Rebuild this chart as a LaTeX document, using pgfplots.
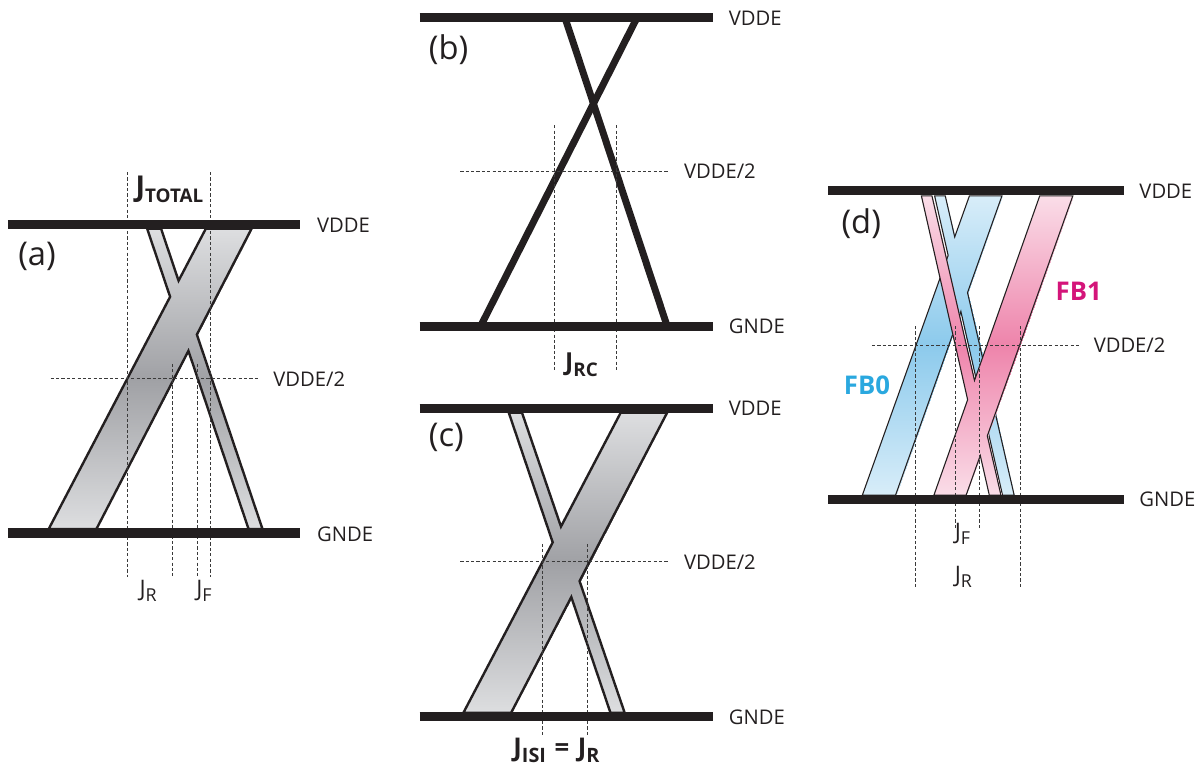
\documentclass[border=0pt]{standalone}
\usepackage{fontspec}
\setmainfont{Open Sans}
\usepackage{pgfplots}
\pgfplotsset{compat=1.18}
\definecolor{fbone}{HTML}{D4157A}
\definecolor{fbzero}{HTML}{2AA8DF}
\definecolor{dashc}{HTML}{3A3A3A}
\definecolor{txt}{HTML}{231F20}
\newcommand{\lab}[1]{{\fontsize{10.2}{12}\selectfont #1}}
\begin{document}
\begin{tikzpicture}
\begin{axis}[width=601bp,height=386bp,scale only axis,
  xmin=0,xmax=1202,ymin=0,ymax=772,y dir=reverse,
  hide axis,clip=false,
  grfill/.style={patch,patch type=triangle,shader=interp,point meta=explicit,
    point meta min=0,point meta max=1,
    colormap={gmap}{rgb255(0cm)=(221,222,224) rgb255(1cm)=(160,161,165)}},
  blfill/.style={patch,patch type=triangle,shader=interp,point meta=explicit,
    point meta min=0,point meta max=1,
    colormap={bmap}{rgb255(0cm)=(216,237,249) rgb255(1cm)=(140,202,236)}},
  pkfill/.style={patch,patch type=triangle,shader=interp,point meta=explicit,
    point meta min=0,point meta max=1,
    colormap={pmap}{rgb255(0cm)=(250,221,232) rgb255(1cm)=(238,132,171)}},
]
\addplot[draw=none,forget plot] coordinates {(0,0) (1202,772)};
% ---------- (a) fill: rising band, then falling band ----------
\addplot[grfill] table[meta=c] {
x y c
207 230 0
253 230 0
175 381 1
207 230 0
175 381 1
128 381 1
128 381 1
175 381 1
97 532 0
128 381 1
97 532 0
49 532 0
148 230 0
162 230 0
213 381 1
148 230 0
213 381 1
199 381 1
199 381 1
213 381 1
264 532 0
199 381 1
264 532 0
250 532 0
};
\addplot[draw=txt,line width=1.2bp,line join=miter,fill=none]
 coordinates {(49,532) (171.1,298.5) (148,230) (162,230) (179.6,282.3) (207,230) (253,230) (198.0,336.5) (264,532) (250,532) (189.5,352.9) (97,532)} --cycle;
% ---------- (c) ----------
\addplot[grfill] table[meta=c] {
x y c
624.3 415 0
671 415 0
593.0 565 1
624.3 415 0
593.0 565 1
545.7 565 1
545.7 565 1
593.0 565 1
514 717 0
545.7 565 1
514 717 0
466 717 0
511.7 415 0
525 415 0
576.3 565 1
511.7 415 0
576.3 565 1
562.5 565 1
562.5 565 1
576.3 565 1
628.3 717 0
562.5 565 1
628.3 717 0
614 717 0
};
\addplot[draw=txt,line width=1.2bp,line join=miter,fill=none]
 coordinates {(466,717) (555.9,545.5) (511.7,415) (525,415) (564.2,529.6) (624.3,415) (671,415) (582.9,584.4) (628.3,717) (614,717) (574.6,600.5) (514,717)} --cycle;
% ---------- (b) ----------
\addplot[txt,line width=3.5bp] coordinates {(568.3,18) (671,328)};
\addplot[txt,line width=3.5bp] coordinates {(483.4,328) (640.6,18)};
% ---------- (d) blue ----------
\addplot[blfill] table[meta=c] {
x y c
975 197 0
1007.7 197 0
954.4 347 1
975 197 0
954.4 347 1
921.3 347 1
921.3 347 1
954.4 347 1
900.7 498 0
921.3 347 1
900.7 498 0
867.3 498 0
940 197 0
950.7 197 0
985.2 347 1
940 197 0
985.2 347 1
974.0 347 1
974.0 347 1
985.2 347 1
1020 498 0
974.0 347 1
1020 498 0
1008.3 498 0
};
\addplot[draw=txt,line width=0.55bp,line join=miter,fill=none]
 coordinates {(867.3,498) (953.6,256.9) (940,197) (950.7,197) (960.2,238.3) (975,197) (1007.7,197) (973.1,294.3) (1020,498) (1008.3,498) (966.4,313.2) (900.7,498)} --cycle;
% ---------- (d) pink ----------
\addplot[pkfill] table[meta=c] {
x y c
1045.7 197 0
1079 197 0
1025.5 347 1
1045.7 197 0
1025.5 347 1
992.7 347 1
992.7 347 1
1025.5 347 1
971.7 498 0
992.7 347 1
971.7 498 0
939.3 498 0
926.7 197 0
937.3 197 0
971.9 347 1
926.7 197 0
971.9 347 1
960.7 347 1
960.7 347 1
971.9 347 1
1006.7 498 0
960.7 347 1
1006.7 498 0
995 498 0
};
\addplot[draw=txt,line width=0.55bp,line join=miter,fill=none]
 coordinates {(939.3,498) (973.2,402) (926.7,197) (937.3,197) (980.1,382.6) (1045.7,197) (1079,197) (993,438.4) (1006.7,498) (995,498) (985.9,458.1) (971.7,498)} --cycle;
% ---------- dashed guides ----------
\pgfplotsset{dsh/.style={dashc,line width=0.5bp,dash pattern=on 1.6bp off 1.1bp}}
\addplot[dsh] coordinates {(51,381) (260,381)};
\addplot[dsh] coordinates {(128,173) (128,580)};
\addplot[dsh] coordinates {(212,173) (212,580)};
\addplot[dsh] coordinates {(173,366) (173,580)};
\addplot[dsh] coordinates {(199,366) (199,580)};
\addplot[dsh] coordinates {(463,172) (673,172)};
\addplot[dsh] coordinates {(558,126) (558,372)};
\addplot[dsh] coordinates {(620,126) (620,372)};
\addplot[dsh] coordinates {(463,565) (673,565)};
\addplot[dsh] coordinates {(546,547) (546,740)};
\addplot[dsh] coordinates {(591,547) (591,740)};
\addplot[dsh] coordinates {(877,347) (1087,347)};
\addplot[dsh] coordinates {(921,328) (921,592)};
\addplot[dsh] coordinates {(1026,328) (1026,592)};
\addplot[dsh] coordinates {(961,328) (961,533)};
\addplot[dsh] coordinates {(985,328) (985,533)};
% ---------- rails ----------
\pgfplotsset{rail/.style={txt,line width=4.6bp}}
\addplot[rail] coordinates {(8,226) (302,226)};
\addplot[rail] coordinates {(8,536) (302,536)};
\addplot[rail] coordinates {(422,18) (717,18)};
\addplot[rail] coordinates {(422,328) (717,328)};
\addplot[rail] coordinates {(422,411) (717,411)};
\addplot[rail] coordinates {(422,721) (717,721)};
\addplot[rail] coordinates {(833,192) (1130,192)};
\addplot[rail] coordinates {(833,502) (1130,502)};
% ---------- labels ----------
\begin{scope}[every node/.style={text=txt}]
\node[anchor=west] at (axis cs:312,227) {\lab{VDDE}};
\node[anchor=west] at (axis cs:312,537) {\lab{GNDE}};
\node[anchor=west] at (axis cs:268,381) {\lab{VDDE/2}};
\node[anchor=west] at (axis cs:726,18) {\lab{VDDE}};
\node[anchor=west] at (axis cs:726,328) {\lab{GNDE}};
\node[anchor=west] at (axis cs:681,172) {\lab{VDDE/2}};
\node[anchor=west] at (axis cs:726,411) {\lab{VDDE}};
\node[anchor=west] at (axis cs:726,721) {\lab{GNDE}};
\node[anchor=west] at (axis cs:681,565) {\lab{VDDE/2}};
\node[anchor=west] at (axis cs:1139,192) {\lab{VDDE}};
\node[anchor=west] at (axis cs:1139,502) {\lab{GNDE}};
\node[anchor=west] at (axis cs:1093,347) {\lab{VDDE/2}};
\node[anchor=west,inner sep=0] at (axis cs:18,258) {\fontsize{16.5}{19}\selectfont (a)};
\node[anchor=west,inner sep=0] at (axis cs:431,50) {\fontsize{16.5}{19}\selectfont (b)};
\node[anchor=west,inner sep=0] at (axis cs:431,440) {\fontsize{16.5}{19}\selectfont (c)};
\node[anchor=west,inner sep=0] at (axis cs:846,225) {\fontsize{16.5}{19}\selectfont (d)};
\node[anchor=base west,inner sep=0] at (axis cs:136,198) {\bfseries\fontsize{14.5}{14}\selectfont J\lower3bp\hbox{\fontsize{9.5}{9}\selectfont TOTAL}};
\node[anchor=base west,inner sep=0] at (axis cs:140,600) {\fontsize{11.5}{11}\selectfont J\lower2.5bp\hbox{\fontsize{9}{9}\selectfont R}};
\node[anchor=base west,inner sep=0] at (axis cs:197,600) {\fontsize{11.5}{11}\selectfont J\lower2.5bp\hbox{\fontsize{9}{9}\selectfont F}};
\node[anchor=base west,inner sep=0] at (axis cs:568,373) {\bfseries\fontsize{12.5}{12}\selectfont J\lower3bp\hbox{\fontsize{9.5}{9}\selectfont RC}};
\node[anchor=base west,inner sep=0] at (axis cs:516,761) {\bfseries\fontsize{13}{12}\selectfont J\lower3bp\hbox{\fontsize{10}{9}\selectfont ISI}\,\,=\,\,J\lower3bp\hbox{\fontsize{10}{9}\selectfont R}};
\node[anchor=base west,inner sep=0] at (axis cs:960,543) {\fontsize{11.5}{11}\selectfont J\lower2.5bp\hbox{\fontsize{9}{9}\selectfont F}};
\node[anchor=base west,inner sep=0] at (axis cs:960,586) {\fontsize{11.5}{11}\selectfont J\lower2.5bp\hbox{\fontsize{9}{9}\selectfont R}};
\end{scope}
\node[text=fbone] at (axis cs:1085,293) {\bfseries\fontsize{13}{12}\selectfont FB1};
\node[text=fbzero] at (axis cs:872,388) {\bfseries\fontsize{13}{12}\selectfont FB0};
\end{axis}
\end{tikzpicture}
\end{document}
